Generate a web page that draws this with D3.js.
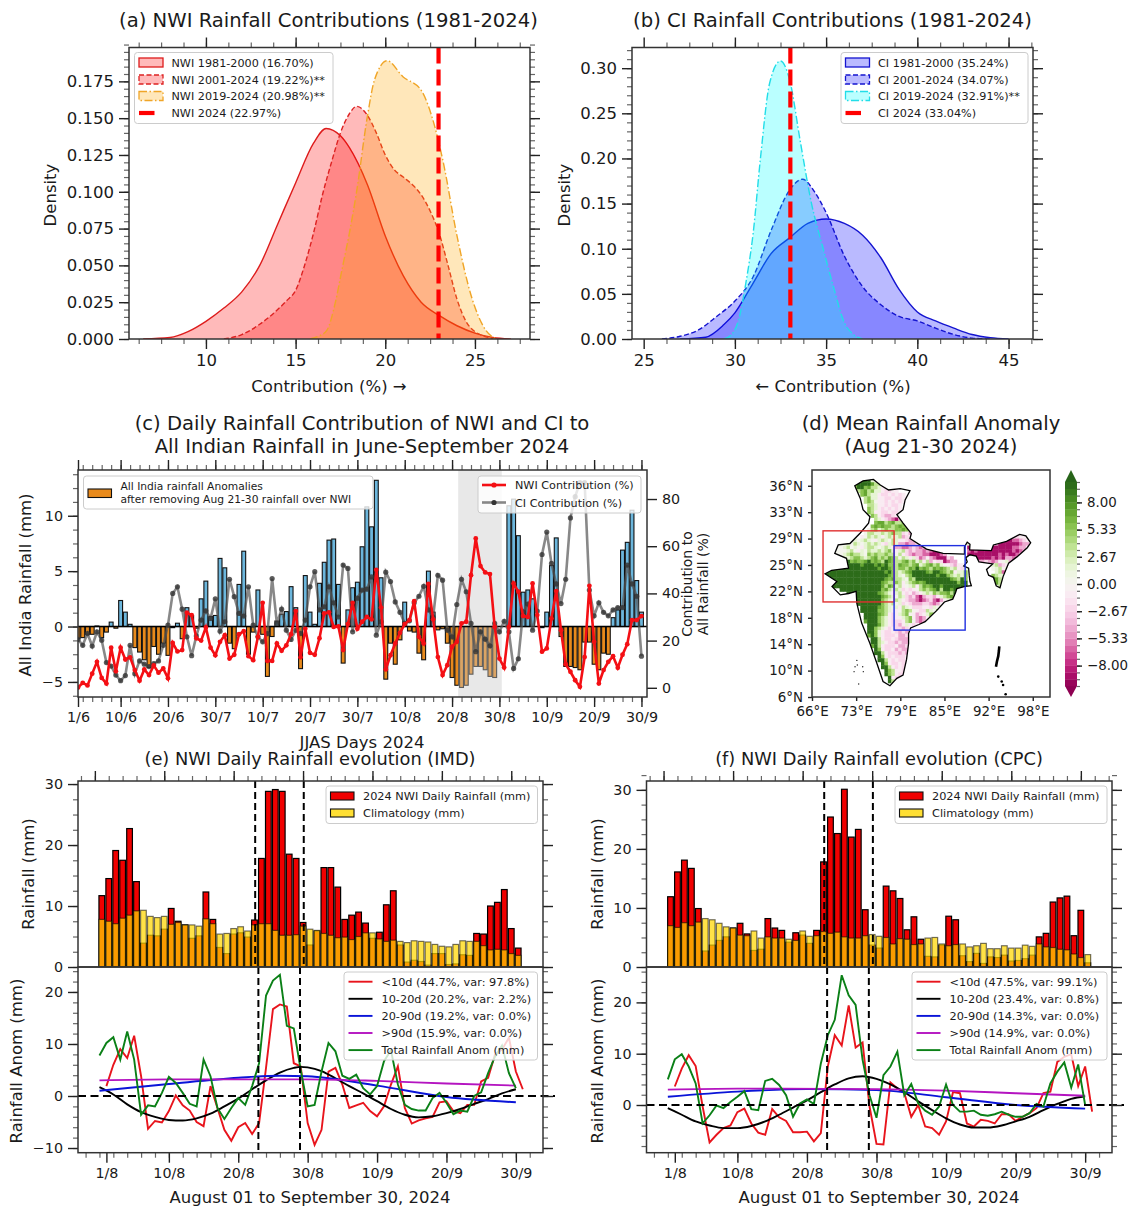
<!DOCTYPE html>
<html>
<head>
<meta charset="utf-8">
<style>
  html, body { margin: 0; padding: 0; background: #fff; }
  text { font-family: "DejaVu Sans", sans-serif; fill: #1a1a1a; }
  .domain { display: none; }
</style>
<script src="https://cdn.jsdelivr.net/npm/d3@7/dist/d3.min.js"></script>
</head>
<body>
<svg id="fig" width="1133" height="1207"></svg>
<script>
// (a) density curves, x then y
const nwiOldX = [6.5,8,9,10,11,12,13,14,15,16,16.7,17.5,18,19,20,21,22,23,24,25,26,27];
const nwiOldY = [0,.001,.005,.012,.021,.032,.05,.078,.106,.133,.143,.138,.13,.105,.07,.043,.025,.016,.009,.004,.001,0];
const nwiNewX = [11,12,13,14,14.5,15,15.5,16,16.5,17,17.5,18,18.4,19,19.5,20,20.5,21,21.5,22,22.5,23,23.5,24,24.5,25,25.5,26];
const nwiNewY = [0,.003,.01,.02,.026,.033,.05,.072,.098,.12,.14,.153,.158,.152,.14,.125,.115,.11,.105,.098,.087,.072,.05,.027,.012,.005,.002,0];
const nwiLateX = [15.8,16.3,16.75,17.2,17.6,18,18.4,19,19.4,20.1,21,22,22.6,23.2,24,24.8,25.6,26.2];
const nwiLateY = [0,.002,.006,.024,.048,.072,.1,.151,.176,.189,.178,.169,.151,.122,.07,.029,.006,0];
const nwiLegend = ["NWI 1981-2000 (16.70%)","NWI 2001-2024 (19.22%)**","NWI 2019-2024 (20.98%)**","NWI 2024 (22.97%)"];

// (b) density curves
const ciOldX = [27,28.4,29.4,30,31,32,33,34,35,36,37,38,39,40,41,42,43,44,45];
const ciOldY = [0,.002,.016,.029,.062,.095,.112,.128,.133,.128,.115,.09,.055,.03,.02,.012,.005,.0015,0];
const ciNewX = [26,27,28,29,30,31,32,33,33.7,34.4,35,36,37,38,39,40,41,42,43,44];
const ciNewY = [0,.003,.01,.025,.042,.069,.121,.165,.177,.162,.14,.092,.058,.038,.025,.02,.012,.005,.001,0];
const ciLateX = [29.4,29.9,30.2,30.6,31,31.4,31.9,32.5,33,33.6,34.2,34.8,35.4,36,36.5,37];
const ciLateY = [0,.007,.021,.062,.117,.2,.283,.308,.287,.217,.15,.103,.058,.018,.005,0];
const ciLegend = ["CI 1981-2000 (35.24%)","CI 2001-2024 (34.07%)","CI 2019-2024 (32.91%)**","CI 2024 (33.04%)"];

// (c) daily values, June 1 to end of September
const allIndiaAnom = [-1.1,-1.0,-0.7,-0.7,0.05,-1.0,-0.5,0.4,-0.15,2.35,
  1.3,0.2,-1.9,-2.3,-3.0,-3.7,-1.8,-2.5,-1.5,-2.6,
  -0.1,0.3,-1.1,1.7,1.0,-0.15,2.5,4.1,0.9,1.0,
  6.15,5.3,-1.5,-2.0,3.8,6.8,-2.5,-0.5,3.3,-0.7,
  -4.5,-0.9,0.5,1.1,1.35,3.6,1.7,-3.8,4.6,1.3,
  0.2,3.9,5.8,7.8,7.9,3.8,-3.3,1.5,3.5,4.0,
  7.2,10.8,9.0,13.2,4.4,-4.75,-1.5,-3.4,-1.2,2.2,
  -0.4,-0.5,-2.4,-3,5.0,1.3,-0.3,-0.2,-1.5,-4.6,
  -5.3,-5.5,-5.3,-4.3,-3.6,-3.6,-3.9,-4.5,-4.6,0,
  0,10.9,11.5,8.2,3.1,3.3,2.5,0,-0.1,1.3,
  5.5,8.0,-0.9,-3.6,-3.6,-3.7,-3.9,-1.4,-1.4,-3.4,
  -3.9,-2.4,-2.5,0.8,1.5,6.9,7.6,10.5,4.15,1.3];
const nwiContribution = [0.1,2.1,1,6,11,4.2,1.8,17,7,17,
  12,12.9,7.5,3,7.8,5.4,9.5,6.4,8.2,4,
  19,15.4,16,31.8,30.8,21,20,25.6,17,13.8,
  19.5,22.3,12.4,14,22.7,24,13.4,11.7,21.6,36,
  11.4,11.4,18.8,15.7,18,22.7,32.5,12.9,25,14.8,
  14,21,31.5,32,25.8,26,16,27,36,25,
  28,30,29,50,34,7.8,13.8,18.8,23.3,27,
  28.7,36.7,21.6,18.8,44,29,13,5.4,9.6,17.4,
  19.5,27.3,28,47.7,63.3,51.6,48.9,48.2,25.8,12.4,
  8.6,25.8,44.2,40.7,30.4,30,44.2,30.8,15.3,16.7,
  29.4,41,24.4,10,6.8,3.2,0.4,13,43.2,19.5,
  1.8,7.5,11,13.4,8.5,14,18.5,28.7,28.7,30.4];
const ciContribution = [20.5,18,23,17.7,23.7,20.2,10.7,9.2,5.4,3,
  5.2,18,6,11.4,10,9,10.3,11.4,18,26.6,
  40,42.8,33.3,21.6,13.6,22,28.7,32.6,29.4,37.7,
  24,28,46,38.6,31.5,30.4,42.8,26.6,21.6,19.5,
  23,46.3,27.3,33.3,24.4,20.5,24.4,23,28.7,42.8,
  49.2,33,34.3,42.8,36,30,52,50.6,23.7,38,
  41.4,41.8,47,22.3,28,49,45,36.4,32,27.3,
  28.4,36,38.8,43,33,30,47.7,45.6,24.4,21.6,
  35.3,46,40.7,27.3,15.3,23.7,20.6,17.8,27.3,23.7,
  28.2,23.7,8.2,12.3,32.2,35.5,24.4,32.5,56.5,66,
  52.7,44,35.7,46,72,81,87,87,41.4,30.5,
  36,32,30.5,33,34,34,52,44,38.8,13.4];
const dayTicks = [0,9,19,29,39,49,59,69,79,89,99,109,119];
const dayLabels = ["1/6","10/6","20/6","30/7","10/7","20/7","30/7","10/8","20/8","30/8","10/9","20/9","30/9"];

// (d) anomaly grid, half degree cells: first row 37N, first column 68E
// G f g l e w q p P m M run from strong wet to strong dry
const levelChars = ["G","f","g","l","e","w","q","p","P","m","M"];
const levelValues = [9.5,7,5.5,3.5,1.5,0.3,-1,-2.5,-4.5,-6.5,-9];
const mapRowsMain = [
"        eGGGGe",
"        fGGGGfll",
"        gGGgflleqq",
"         lgflgeeqppqq",
"          gfleeqppqpqpq",
"           lgeeqqppqppq",
"           lglwqqpqpqpq",
"            lleqqpqppq",
"            gleqpqpqpq",
"            glqqppqppq",
"             glqpPPpqp",
"              leqpPmMPpq",
"              gfflgfllgg",
"             gfgfgglgfgg",
"            wlgelgllggfgeq",
"           wlleelelgllpqPP",
"          qwleleqeleelPpqPp",
"       wewelewqelewleqqpPPpq",
"    wwewleweleleqpelePPmPPpqP",
"   wwelwewqelleweleqPPmmPpPmPPq",
"  wwwwelwqewleelelgeqelpPpPPmPmMMm",
"  ewwelgllewglgllgllwlqpPmPPmmMMMmP",
"   qweelgglelgflglfglwleqepmPqPmMMMpP",
"  ewlgGgfggfGgfglGfgllgflgelqlPqppMmPP",
" eglfGGGGGfGGGfGfGgglfgglgfelgflgeqqpPqq",
"  gfGGGGGGGGGGGfGGfglgglfgGgfglfgfglelqpe",
"GGGGGGGGGGGGGGGGGfGglelgfGGGGfgGGfglgqeeg",
"GGGGGGGGGGGGGGGGGGfglewlgGGGGGGGfGGgleleg",
"GGGGGGGGGGGGGGGGGfgfllewglGGGGGGGGGGfglGg",
"GGGGGGGGGGGGGGGGfgllglqelgfgfGGGGGGGGGgGG",
"  GGGGGGGGGGGGGGflfgelqwelqlfgfGGfGGGGGGG",
"    GGGGGGGGGGGGgflelepqpqwlglgfGlGGfGGGG",
"      GGGGGGGGGfgleqelqpqPpqeleglggflGGG",
"        GGGGGGGGfglewlepPpmMPppPqelgflf",
"         GGGGGGGglewleqpPPmMmPpmMPqelg",
"         GGGGGGGglelwepqpPPPppPmPqlgl",
"          GGGGGfgleweqlewpppqqpewlgf",
"          GGGGGggleqqwlglwqpplewgl",
"           GGGGfglqpqelgwqPpqeggl",
"           GGGGgleqpqqelgqPmPqgfg",
"           fGGGgleqpppqlgwPmPqlg",
"            GGGfleqppPqeqpqPPqg",
"            GGgleqpqppPpqpqqp",
"            GGgeqppqpPpPpqpe",
"            fGgeqpppqPPpqpq",
"             GGlqppqpPPPpqp",
"             GGleqppPpPPpq",
"             fGlqpppqPPpPq",
"              GgqppqPpPPqp",
"              GGlqpppPpPqp",
"               Ggqpqpppqp",
"               GGlqpqppq",
"                Ggqppqpp",
"                GGlqpqpq",
"                 Gglqqpq",
"                 Gglqppq",
"                  Gqppq",
"                  Glqpq",
"                   lqq",
"                   qq"];
// north east part: first row 29N, first column 88.5E
const mapRowsEast = [
"             ppqqew",
"         MMMMmmPpqqp",
"ep      PMMMMMMmPPpqpq",
"MM   mMMMMMMMmmPPqpP",
"mMmMMMMMMMMMMmMmPPqp",
"MMMMMMMMMmMmMMmPqe",
"pPMMMMMmMmMPPmPpew",
"   PPpPmPqwePpqe",
"    lqwelPpqeew",
"       welqelelw",
"        elmPlee",
"       gleePPlew",
"      GGflelee",
"        flgl",
"         lg"];
const indiaLon = [72.2,73.4,74.9,75.9,77.1,78.8,80.2,79.5,79.2,78.3,79.2,80.4,80.2,82.6,85,88.1,88.1,88.5,88.9,88.85,92,92.3,94.2,96.1,97,97.7,97.2,95.7,94.5,93.7,93.25,92.7,92.3,91.6,91.3,92.2,90.2,89.8,88.9,88.3,88.5,88,88.7,88.8,88.9,89.1,88.2,87,86.8,86.4,85.2,84.1,82.4,81.5,80.3,80,80,79.7,79.2,78.3,77.3,76.3,75.4,74.4,73.2,72.5,72.4,71.3,70.1,68.9,69.6,67.9,68.85,71.3,71,69.3,69.8,71.5,73,74.2,74.4,73.4,73];
const indiaLat = [36,36.7,36.9,36.1,35.4,35.6,35.3,34,32.6,31.9,30.7,29.2,28.5,27,26.4,26.3,27.3,28,27.7,26.9,26.8,27.6,28.1,29.1,28.9,27.9,27.2,25.9,25,23.1,21.5,21.8,23,23.3,24.1,24.9,25.2,26,26.2,25.8,25.2,24.6,24.3,23.2,22.4,21.8,21.7,21.4,20.8,19.9,19.5,18.3,16.7,16.3,15.8,15,13.6,11.3,9.1,8.65,7.6,8.2,10.8,13.6,16.5,19.3,21,20.7,20.5,21.7,22.4,23.5,24,24.3,25.7,26.4,27.6,27.8,29.3,30.7,31.6,32.6,34.2];
const andamanLon = [93.15,93.1,93,92.8,92.67];
const andamanLat = [13.2,12.6,11.8,11,10.3];
const nicobarLon = [93,93.5,93.7,94.07];
const nicobarLat = [8.9,8.2,7.7,6.4];
const lakshadweepLon = [72.5,72.24,72.57,73.35,72.1,73.44,72.77];
const lakshadweepLat = [11.2,10.3,10.55,10.3,9.6,9.6,7.85];
const nwiBoxLon = [67.6,77.9], nwiBoxLat = [19.5,29.6];
const ciBoxLon = [77.9,88.2], ciBoxLat = [15.5,27.5];
const lonTicks = [66,72.4,78.8,85.2,91.6,98];
const lonLabels = ["66°E","73°E","79°E","85°E","92°E","98°E"];
const latTicks = [6,9.75,13.5,17.25,21,24.75,28.5,32.25,36];
const latLabels = ["6°N","10°N","14°N","18°N","22°N","25°N","29°N","33°N","36°N"];
const cbarTicks = [8,5.33,2.67,0,-2.67,-5.33,-8];

// (e) IMD, Aug 1 to Sep 30
const imdRain = [11.7,14.5,19.1,17.5,22.7,14,3.9,5.2,5.1,6.2,9.6,7.5,6.9,4.7,5.1,12.3,7.8,3.2,2.2,5.4,5.6,4.9,7.7,17.8,28.8,29.1,28.8,18.5,17.8,7.3,3.6,5.9,16.3,16.3,13.1,7.8,8.5,9,7.2,4.7,5.7,10.2,12.5,3.6,0.8,1.1,0.9,0.3,2.2,2.2,0.4,0.5,2,1.9,5.5,5.4,10,10.6,12.7,6.3,3.1];
const imdClim = [7.8,7.5,7.1,8,8.5,9.2,9.3,8.3,8.1,8.3,7,7.3,6.9,6.9,6.7,7.9,7.1,5.4,5.5,6.3,6.6,5.9,6.9,7.1,7.1,6,5.2,5.2,5.3,6.7,6.2,6,5.5,5.2,4.8,4.9,4.5,5,5.6,5.6,4.6,4.2,4.4,4.2,4,4.3,4.2,4.1,3.7,3.4,3.3,3.7,4.3,4.2,4.2,3.5,2.8,2.9,2.8,2.2,1.9];
const imdTotal = [7.8,10.2,11.3,7,12.4,7,-3.6,-1.8,-2,0.6,3.7,2.5,0.6,-1.5,-2,7,3.8,-2.3,-4.4,-2.3,-0.4,-1.7,1.9,6.3,19.3,22.2,23.3,13.5,13,5,-2,-1.7,4.7,10.2,8.6,3.9,3.3,4.1,1.5,0.3,1.9,6.7,8.8,2.2,-1.7,-2.5,-2.8,-2.8,-0.4,0.6,-1.3,-3.5,-2.8,-3,0,0.7,4.4,7.6,9.7,4.4,1.5];
const imdShort = [1.9,6,9,7.3,11.6,3.8,-6.3,-4.8,-5.1,-2.9,0.1,-1.8,-2.8,-5,-5.8,1.9,-2.3,-6.5,-8.6,-6,-5.2,-7.3,-5.2,5.4,16.7,17.6,17.2,6.3,5.7,-5.2,-9.4,-6.5,4.7,5.4,2.2,-2.3,-1.8,-1.3,-2.9,-3.9,-2,2.2,5.7,-2.3,-5.3,-4.7,-4.3,-4,-1.2,-1,-2.9,-3.3,-1.7,-1.7,2.8,3.5,8,8.9,11.2,4.7,1.3];
const imdMidDays = [-1,1,3,5,7,9,11,13,15,17,19,21,23,25,27,28,29,31,33,35,37,39,41,43,45,47,49,51,53,55,57,59];
const imdMid = [1.7,0.3,-1.6,-3.1,-4,-4.6,-4.7,-4.3,-3.4,-2,-0.5,1.3,3,4.5,5.4,5.6,5.5,4.8,3.4,1.9,0.5,-1,-2.5,-3.6,-4.1,-3.9,-3.3,-2.5,-1.5,-0.6,0.5,1.3];
const imdLowDays = [-1,9,19,25,29,39,49,59];
const imdLow = [1,2.3,3.5,3.9,3.8,2,-0.2,-1.2];
const imdSlowDays = [-1,9,29,39,49,59];
const imdSlow = [3,3.2,3.2,2.9,2.4,2];
const imdLegend = ["<10d (44.7%, var: 97.8%)","10-20d (20.2%, var: 2.2%)","20-90d (19.2%, var: 0.0%)",">90d (15.9%, var: 0.0%)","Total Rainfall Anom (mm)"];

// (f) CPC, Aug 1 to Sep 30
const cpcRain = [11.9,16.1,18.1,16.7,9.9,2.7,3.7,4.5,5.1,6.6,7.4,5.6,2.8,3,8.2,6.6,6.2,4.2,5.8,5.4,4,6.2,17.8,25.4,22.6,30.1,22,23.3,9.7,3.7,3.2,13.7,12.9,11.6,6.3,8.5,4.7,1.8,1.7,3.7,8.6,8,1.9,0.9,2.3,0.6,1.7,1.6,2,1,1.1,1.4,2,5.1,5.7,11,11.7,12,5.3,9.6,0.7];
const cpcClim = [7,6.7,7.5,7,7.6,8.2,8,7.4,6.8,6.6,5.4,5.3,6.1,4.9,5.1,4.9,4.9,4.7,4.5,6.1,5.2,5.3,6,5.7,5.9,5.1,4.9,4.9,5.3,5.5,5.2,5,3.9,4.8,4.7,3.8,3.9,4.9,5,3.9,3.6,3.8,3.9,3.4,3.6,4,3.1,3.1,3.6,3.2,3.2,3.7,3.5,3.9,3.4,3.3,3,2.9,2.2,1.6,2.1];
const cpcTotal = [5,8.9,9.9,7.5,4.2,-3.6,-2,-0.1,-0.6,0.6,1.6,2.7,-0.8,-1,4.7,5.1,3.9,1.9,-2.3,0.3,1.1,0.2,8.1,13.6,16.6,25.3,21.4,19.5,8.8,1.9,-2.5,5.8,7.5,10.4,1.9,4.1,0.3,-1.1,-1.9,-0.3,4,0,-1.3,-1.3,-1.1,-1.9,-2.1,-1.8,-1.3,-1.9,-2.3,-2.3,-1.6,0.2,-0.3,4.2,6.5,8.3,3.4,7.9,0];
const cpcShort = [3.6,7.1,9.7,7.6,-0.3,-7.3,-5.8,-4.5,-4,-1.4,-0.7,-3.6,-5.4,-5.8,-0.8,-2.4,-3.1,-5.3,-5.3,-5.2,-7.1,-5.5,7.5,13.6,11.6,19.4,11.2,12.2,-0.3,-7.6,-7.7,4.4,3.2,2.3,-2.3,0,-4.2,-4.5,-5.8,-3.2,2.5,2.3,-3.6,-4.2,-2.9,-3.1,-3.6,-1.8,-1.8,-3.1,-2.3,-1.6,-0.6,2.3,2.6,8.4,9.4,9.9,3.7,7.5,-1.3];
const cpcMidDays = [-1,1,3,5,7,9,11,13,15,17,19,21,23,25,27,29,31,33,35,37,39,41,43,45,47,49,51,53,55,57,59];
const cpcMid = [-0.6,-1.9,-3.2,-4,-4.5,-4.5,-4.1,-3.2,-1.9,-0.5,0.9,2.5,4,5.2,5.6,5.1,4,2.5,0.7,-1,-2.6,-3.8,-4.4,-4.4,-4,-3.2,-2.3,-1,0.2,1.2,1.7];
const cpcLowDays = [-1,9,19,29,39,49,59];
const cpcLow = [1.6,2.6,3.1,2.9,1.5,0,-0.7];
const cpcSlowDays = [-1,9,29,39,49,59];
const cpcSlow = [3,3.2,3.1,2.8,2.3,1.8];
const cpcLegend = ["<10d (47.5%, var: 99.1%)","10-20d (23.4%, var: 0.8%)","20-90d (14.3%, var: 0.0%)",">90d (14.9%, var: 0.0%)","Total Rainfall Anom (mm)"];

const evoTicks = [0,9,19,29,39,49,59];
const evoLabels = ["1/8","10/8","20/8","30/8","10/9","20/9","30/9"];
const barLegend = ["2024 NWI Daily Rainfall (mm)","Climatology (mm)"];
const componentColors = ["#e8141c","#000000","#0a14d8","#b414c0","#0b8017"];

const svg = d3.select("#fig");

function label(x, y, s, size, anchor, rotate) {
  const t = svg.append("text").attr("x", x).attr("y", y).attr("font-size", size)
    .attr("text-anchor", anchor || "middle").text(s);
  if (rotate) t.attr("transform", `rotate(${rotate} ${x} ${y})`);
  return t;
}

function ticks(axisFn, scale, tx, ty, majors, minors, labels, size, lenMaj, lenMin) {
  const g = svg.append("g").attr("transform", `translate(${tx},${ty})`);
  g.append("g").call(axisFn(scale).tickValues(minors).tickSize(lenMin || 5).tickFormat(""))
    .selectAll("line").attr("stroke", "#666").attr("stroke-width", 1.2);
  const main = g.append("g").call(axisFn(scale).tickValues(majors).tickSize(lenMaj || 10).tickPadding(5)
    .tickFormat((d, i) => labels ? labels[i] : ""));
  main.selectAll("line").attr("stroke", "#222").attr("stroke-width", 1.4);
  main.selectAll("text").attr("font-size", size || 15).attr("font-family", "DejaVu Sans").attr("fill", "#1a1a1a");
  g.selectAll(".tick text").filter(function () { return !this.textContent; }).remove();
}

function frame(x0, y0, x1, y1) {
  svg.append("rect").attr("x", x0).attr("y", y0).attr("width", x1 - x0).attr("height", y1 - y0)
    .attr("fill", "none").attr("stroke", "#333").attr("stroke-width", 1.5);
}

function clip(id, x0, y0, x1, y1) {
  svg.append("clipPath").attr("id", id).append("rect")
    .attr("x", x0).attr("y", y0).attr("width", x1 - x0).attr("height", y1 - y0);
  return svg.append("g").attr("clip-path", `url(#${id})`);
}

function legendBox(x0, y0, x1, y1) {
  svg.append("rect").attr("x", x0).attr("y", y0).attr("width", x1 - x0).attr("height", y1 - y0)
    .attr("rx", 3).attr("fill", "#fff").attr("fill-opacity", 0.8).attr("stroke", "#ccc").attr("stroke-width", 1);
}

function range(start, stop, step) {
  return d3.range(start, stop + step / 2, step);
}

// ---- density panels
function densityPanel(o) {
  const x = d3.scaleLinear().domain(o.xDomain).range([o.x0, o.x1]);
  const y = d3.scaleLinear().domain(o.yDomain).range([339, 47.5]);
  const g = clip(o.id, o.x0, 47.5, o.x1, 339);
  o.curves.forEach(c => {
    const pts = c.xs.map((v, i) => [v, c.ys[i]]);
    g.append("path").datum(pts)
      .attr("d", d3.area().x(d => x(d[0])).y0(y(0)).y1(d => y(d[1])).curve(d3.curveMonotoneX))
      .attr("fill", c.fill).attr("fill-opacity", 0.27);
    g.append("path").datum(pts)
      .attr("d", d3.line().x(d => x(d[0])).y(d => y(d[1])).curve(d3.curveMonotoneX))
      .attr("fill", "none").attr("stroke", c.stroke).attr("stroke-width", 1.4).attr("stroke-dasharray", c.dash);
  });
  g.append("line").attr("x1", x(o.mark)).attr("x2", x(o.mark)).attr("y1", y.range()[1]).attr("y2", y(0))
    .attr("stroke", "#ff0000").attr("stroke-width", 4.2).attr("stroke-dasharray", "16,6");

  const minorX = range(o.xMinorStart, o.xDomain[1], 1.25);
  ticks(d3.axisBottom, x, 0, 339, o.xTicks, minorX, o.xTicks.map(String), 16.5);
  ticks(d3.axisTop, x, 0, 47.5, o.xTicks, minorX, null);
  const minorY = range(0, o.yDomain[1], o.yMinor);
  ticks(d3.axisLeft, y, o.x0, 0, o.yTicks, minorY, o.yTicks.map(o.yFormat), 16.5);
  ticks(d3.axisRight, y, o.x1, 0, o.yTicks, minorY, null);
  frame(o.x0, 47.5, o.x1, 339);

  legendBox(o.lx0, 52.5, o.lx1, 123.5);
  const rowY = [62.5, 79.5, 96, 113];
  o.curves.forEach((c, i) => {
    svg.append("rect").attr("x", o.lx0 + 4.5).attr("y", rowY[i] - 4.5).attr("width", 24).attr("height", 9)
      .attr("fill", c.fill).attr("fill-opacity", 0.27).attr("stroke", c.stroke).attr("stroke-width", 1.3)
      .attr("stroke-dasharray", c.dash);
  });
  svg.append("line").attr("x1", o.lx0 + 4.5).attr("x2", o.lx0 + 20).attr("y1", rowY[3]).attr("y2", rowY[3])
    .attr("stroke", "#ff0000").attr("stroke-width", 4.2);
  o.legend.forEach((s, i) => label(o.lx0 + 37, rowY[i] + 4, s, 11.2, "start"));

  label((o.x0 + o.x1) / 2 + o.titleDx, 27, o.title, 19.6);
  label(o.labelX, 392, o.xLabel, 16.5);
  label(o.densityX, 195, "Density", 16.5, "middle", -90);
}

densityPanel({
  id: "clipA", x0: 129, x1: 530, xDomain: [5.71, 28.07], yDomain: [0, 0.198], mark: 22.97,
  xTicks: [10, 15, 20, 25], xMinorStart: 6.25, yTicks: [0, .025, .05, .075, .1, .125, .15, .175],
  yMinor: 0.005, yFormat: d3.format(".3f"), lx0: 134.5, lx1: 333, legend: nwiLegend,
  title: "(a) NWI Rainfall Contributions (1981-2024)", titleDx: -1, labelX: 329,
  xLabel: "Contribution (%) →", densityX: 56,
  curves: [
    { xs: nwiOldX, ys: nwiOldY, fill: "#ff0000", stroke: "#dd1c1c", dash: null },
    { xs: nwiNewX, ys: nwiNewY, fill: "#ff0000", stroke: "#d22", dash: "5,2.5" },
    { xs: nwiLateX, ys: nwiLateY, fill: "#ffa500", stroke: "#f0a527", dash: "8,2.5,1.5,2.5" }
  ]
});
densityPanel({
  id: "clipB", x0: 632, x1: 1033, xDomain: [24.36, 46.34], yDomain: [0, 0.3229], mark: 33.04,
  xTicks: [25, 30, 35, 40, 45], xMinorStart: 26.25, yTicks: [0, .05, .1, .15, .2, .25, .3],
  yMinor: 0.01, yFormat: d3.format(".2f"), lx0: 841, lx1: 1028, legend: ciLegend,
  title: "(b) CI Rainfall Contributions (1981-2024)", titleDx: 0, labelX: 833,
  xLabel: "← Contribution (%)", densityX: 570,
  curves: [
    { xs: ciOldX, ys: ciOldY, fill: "#0000ff", stroke: "#1414d0", dash: null },
    { xs: ciNewX, ys: ciNewY, fill: "#0000ff", stroke: "#1414d0", dash: "5,2.5" },
    { xs: ciLateX, ys: ciLateY, fill: "#00ffff", stroke: "#22dde8", dash: "8,2.5,1.5,2.5" }
  ]
});

// ---- panel c
(function () {
  const x0 = 78, x1 = 647, y0 = 470, y1 = 697;
  const x = d3.scaleLinear().domain([0, 120.17]).range([x0, x1]);
  const y = d3.scaleLinear().domain([-6.36, 14.13]).range([y1, y0]);
  const yr = d3.scaleLinear().domain([-3.9, 92.3]).range([y1, y0]);
  const g = clip("clipC", x0, y0, x1, y1);
  const barW = 3.9;
  g.selectAll("rect.day").data(allIndiaAnom).join("rect").attr("class", "day")
    .attr("x", (d, i) => x(i) - barW / 2).attr("width", barW)
    .attr("y", d => y(Math.max(d, 0))).attr("height", d => Math.abs(y(d) - y(0)))
    .attr("fill", d => d >= 0 ? "#6cb6dc" : "#e88a1c").attr("stroke", "#111").attr("stroke-width", 1.1);
  g.append("rect").attr("x", x(80.3)).attr("width", x(89.5) - x(80.3)).attr("y", y0).attr("height", y1 - y0)
    .attr("fill", "#c8c8c8").attr("fill-opacity", 0.42);
  g.append("line").attr("x1", x0).attr("x2", x1).attr("y1", y(0)).attr("y2", y(0))
    .attr("stroke", "#000").attr("stroke-width", 1.6);

  const ln = d3.line().x((d, i) => x(i)).y(d => yr(d));
  g.append("path").datum(ciContribution).attr("d", ln).attr("fill", "none")
    .attr("stroke", "#555").attr("stroke-opacity", 0.7).attr("stroke-width", 2.6);
  g.selectAll("circle.ci").data(ciContribution).join("circle").attr("class", "ci")
    .attr("cx", (d, i) => x(i)).attr("cy", d => yr(d)).attr("r", 2.6).attr("fill", "#333").attr("fill-opacity", 0.8);
  g.append("path").datum(nwiContribution).attr("d", ln).attr("fill", "none")
    .attr("stroke", "#f40f14").attr("stroke-width", 2.6);
  g.selectAll("circle.nwi").data(nwiContribution).join("circle").attr("class", "nwi")
    .attr("cx", (d, i) => x(i)).attr("cy", d => yr(d)).attr("r", 2.4).attr("fill", "#f40f14");

  const minorX = range(1, 120, 2);
  ticks(d3.axisBottom, x, 0, y1, dayTicks, minorX, dayLabels, 14.3);
  ticks(d3.axisTop, x, 0, y0, dayTicks, minorX, null);
  ticks(d3.axisLeft, y, x0, 0, [-5, 0, 5, 10], range(-6.25, 13.75, 1.25), ["−5", "0", "5", "10"], 14.3);
  ticks(d3.axisRight, yr, x1, 0, [0, 20, 40, 60, 80], [], ["0", "20", "40", "60", "80"], 14.3);
  frame(x0, y0, x1, y1);

  legendBox(83.5, 476, 373, 509);
  svg.append("rect").attr("x", 88).attr("y", 489).attr("width", 23.5).attr("height", 8.5)
    .attr("fill", "#e88a1c").attr("stroke", "#111").attr("stroke-width", 1.1);
  label(120.5, 490, "All India rainfall Anomalies", 10.7, "start");
  label(120.5, 502.5, "after removing Aug 21-30 rainfall over NWI", 10.7, "start");

  legendBox(478, 476, 641, 513);
  [["#f40f14", 1, "NWI Contribution (%)", 485], ["#555", 0.7, "CI Contribution (%)", 502.5]].forEach(r => {
    svg.append("line").attr("x1", 482).attr("x2", 506).attr("y1", r[3]).attr("y2", r[3])
      .attr("stroke", r[0]).attr("stroke-opacity", r[1]).attr("stroke-width", 2.6);
    svg.append("circle").attr("cx", 494).attr("cy", r[3]).attr("r", 2.6).attr("fill", r[0] === "#555" ? "#333" : r[0]);
    label(515, r[3] + 4, r[2], 11.2, "start");
  });

  label(362, 430, "(c) Daily Rainfall Contribution of NWI and CI to", 19.6);
  label(362, 453, "All Indian Rainfall in June-September 2024", 19.6);
  label(362, 748, "JJAS Days 2024", 16.5);
  label(31, 585, "All India Rainfall (mm)", 16.5, "middle", -90);
  label(692, 584, "Contribution to", 14, "middle", -90);
  label(708, 584, "All Rainfall (%)", 14, "middle", -90);
})();

// ---- panel d
(function () {
  const x0 = 812, x1 = 1050, y0 = 470, y1 = 697;
  const x = d3.scaleLinear().domain([66, 100.5]).range([x0, x1]);
  const y = d3.scaleLinear().domain([6, 38.24]).range([y1, y0]);
  const bands = range(-10, 10, 20 / 30);
  const color = v => d3.interpolatePiYG((Math.floor((v + 10) / (20 / 30)) + 0.5) / 30);
  const outline = indiaLon.map((v, i) => [v, indiaLat[i]]);
  const shape = d3.line().x(d => x(d[0])).y(d => y(d[1])).curve(d3.curveLinearClosed);

  svg.append("clipPath").attr("id", "clipIndia").append("path").attr("d", shape(outline));
  const cells = svg.append("g").attr("clip-path", "url(#clipIndia)");
  const drawRows = (rows, lon0, lat0) => rows.forEach((row, r) => {
    Array.from(row).forEach((ch, c) => {
      const k = levelChars.indexOf(ch);
      if (k < 0) return;
      const lon = lon0 + c * 0.5, lat = lat0 - r * 0.5;
      cells.append("rect").attr("x", x(lon)).attr("y", y(lat))
        .attr("width", x(lon + 0.5) - x(lon) + 0.4).attr("height", y(lat - 0.5) - y(lat) + 0.4)
        .attr("fill", color(levelValues[k]));
    });
  });
  drawRows(mapRowsMain, 68, 37);
  drawRows(mapRowsEast, 88.5, 29);

  svg.append("path").attr("d", shape(outline)).attr("fill", "none").attr("stroke", "#000").attr("stroke-width", 1.3);
  svg.append("path").datum(andamanLon.map((v, i) => [v, andamanLat[i]]))
    .attr("d", d3.line().x(d => x(d[0])).y(d => y(d[1]))).attr("fill", "none").attr("stroke", "#000").attr("stroke-width", 2.6);
  nicobarLon.forEach((v, i) => svg.append("circle").attr("cx", x(v)).attr("cy", y(nicobarLat[i])).attr("r", 1.3).attr("fill", "#000"));
  lakshadweepLon.forEach((v, i) => svg.append("circle").attr("cx", x(v)).attr("cy", y(lakshadweepLat[i])).attr("r", 0.7).attr("fill", "#222"));

  [[nwiBoxLon, nwiBoxLat, "#e03030"], [ciBoxLon, ciBoxLat, "#2030e0"]].forEach(b => {
    svg.append("rect").attr("x", x(b[0][0])).attr("width", x(b[0][1]) - x(b[0][0]))
      .attr("y", y(b[1][1])).attr("height", y(b[1][0]) - y(b[1][1]))
      .attr("fill", "none").attr("stroke", b[2]).attr("stroke-width", 1.4);
  });

  ticks(d3.axisBottom, x, 0, y1, lonTicks, [], lonLabels, 13.4, 4);
  ticks(d3.axisLeft, y, x0, 0, latTicks, [], latLabels, 13.4, 4);
  frame(x0, y0, x1, y1);

  // colour bar
  const yc = d3.scaleLinear().domain([-10, 10]).range([686, 482]);
  const cw = 12, cx = 1065;
  svg.selectAll("rect.band").data(bands.slice(0, -1)).join("rect").attr("class", "band")
    .attr("x", cx).attr("width", cw).attr("y", d => yc(d + 20 / 30)).attr("height", yc(0) - yc(20 / 30) + 0.3)
    .attr("fill", d => color(d + 0.1));
  const tip = (v, ty) => svg.append("path").attr("d", `M${cx},${yc(v)}L${cx + cw / 2},${ty}L${cx + cw},${yc(v)}Z`)
    .attr("fill", d3.interpolatePiYG(v > 0 ? 1 : 0)).attr("stroke", "none");
  tip(10, 470); tip(-10, 697);
  ticks(d3.axisRight, yc, cx + cw, 0, cbarTicks, bands, cbarTicks.map(v => v < 0 ? "−" + d3.format(".2f")(-v) : d3.format(".2f")(v)), 13.4, 5, 3);

  label(931, 430, "(d) Mean Rainfall Anomaly", 19.6);
  label(931, 453, "(Aug 21-30 2024)", 19.6);
})();

// ---- panels e and f
function evolutionPanel(o) {
  const midY = 967, topY = 781, botY = 1152.7;
  const xBar = d3.scaleLinear().domain([0, 60]).range([o.barStart, o.barEnd]);
  const perDay = (o.barEnd - o.barStart) / 60;
  const xDay = d3.scaleLinear().domain([0, 59]).range([o.dayStart, o.dayStart + 59 * perDay]);
  const yTop = d3.scaleLinear().domain([0, o.topMax]).range([midY, topY]);
  const yLow = d3.scaleLinear().domain(o.lowDomain).range([botY, midY]);

  const up = clip(o.id + "u", o.x0, topY, o.x1, midY);
  const w = 5.7;
  up.selectAll("rect.rain").data(o.rain).join("rect").attr("class", "rain")
    .attr("x", (d, i) => xBar(i) - w / 2).attr("width", w).attr("y", d => yTop(d)).attr("height", d => midY - yTop(d))
    .attr("fill", "#f00000").attr("stroke", "#000").attr("stroke-width", 1.2);
  up.selectAll("rect.clim").data(o.clim).join("rect").attr("class", "clim")
    .attr("x", (d, i) => xBar(i) - w / 2).attr("width", w).attr("y", d => yTop(d)).attr("height", d => midY - yTop(d))
    .attr("fill", "#ffd700").attr("fill-opacity", 0.72).attr("stroke", "#000").attr("stroke-opacity", 0.55).attr("stroke-width", 1.2);
  o.vBar.forEach(v => up.append("line").attr("x1", xBar(v)).attr("x2", xBar(v)).attr("y1", topY).attr("y2", midY)
    .attr("stroke", "#000").attr("stroke-width", 2).attr("stroke-dasharray", "7,4"));

  const lo = clip(o.id + "l", o.x0, midY, o.x1, botY);
  const series = d3.line().x(d => xDay(d[0])).y(d => yLow(d[1]));
  const smooth = d3.line().x(d => xDay(d[0])).y(d => yLow(d[1])).curve(d3.curveMonotoneX);
  const pairs = (days, vals) => vals.map((v, i) => [days ? days[i] : 0, v]);
  const dailyFrom = (start, vals) => vals.map((v, i) => [start + i, v]);
  const draw = (pts, fn, col, sw) => lo.append("path").datum(pts).attr("d", fn).attr("fill", "none")
    .attr("stroke", col).attr("stroke-width", sw);
  draw(dailyFrom(0, o.short), series, componentColors[0], 1.9);
  draw(pairs(o.midDays, o.mid), smooth, componentColors[1], 1.9);
  draw(pairs(o.lowDays, o.low), smooth, componentColors[2], 1.9);
  draw(pairs(o.slowDays, o.slow), smooth, componentColors[3], 1.9);
  draw(dailyFrom(-1, o.total), series, componentColors[4], 1.9);
  o.vDay.forEach(v => lo.append("line").attr("x1", xDay(v)).attr("x2", xDay(v)).attr("y1", midY).attr("y2", botY)
    .attr("stroke", "#000").attr("stroke-width", 2).attr("stroke-dasharray", "7,4"));
  svg.append("line").attr("x1", o.x0).attr("x2", o.x1 + 12).attr("y1", yLow(0)).attr("y2", yLow(0))
    .attr("stroke", "#000").attr("stroke-width", 2).attr("stroke-dasharray", "8,4.5");

  const minorBar = range(-3, 63, 2);
  ticks(d3.axisTop, xBar, 0, topY, range(-1, 59, 10), minorBar, null);
  ticks(d3.axisBottom, xDay, 0, botY, evoTicks, range(-3, 62, 2), evoLabels, 14.3);
  ticks(d3.axisLeft, yTop, o.x0, 0, [0, 10, 20, 30], range(0, o.topMax, 2.5), ["0", "10", "20", "30"], 14.3);
  ticks(d3.axisRight, yTop, o.x1, 0, [0, 10, 20, 30], range(0, o.topMax, 2.5), null);
  ticks(d3.axisLeft, yLow, o.x0, 0, o.lowTicks, range(-10, o.lowDomain[1], 2).filter(v => v >= o.lowDomain[0]), o.lowTicks.map(v => v < 0 ? "−" + (-v) : String(v)), 14.3);
  ticks(d3.axisRight, yLow, o.x1, 0, o.lowTicks, range(-10, o.lowDomain[1], 2).filter(v => v >= o.lowDomain[0]), null);
  frame(o.x0, topY, o.x1, midY);
  frame(o.x0, midY, o.x1, botY);

  legendBox(o.lx0, 786, o.lx1, 823.5);
  [["#f00000", 1, 796], ["#ffd700", 0.8, 813]].forEach((r, i) => {
    svg.append("rect").attr("x", o.lx0 + 4.5).attr("y", r[2] - 4).attr("width", 23.5).attr("height", 8)
      .attr("fill", r[0]).attr("fill-opacity", r[1]).attr("stroke", "#111").attr("stroke-width", 1.1);
    label(o.lx0 + 37, r[2] + 4, barLegend[i], 11.3, "start");
  });
  legendBox(o.lx2, 972, o.lx1, 1060);
  o.legend.forEach((s, i) => {
    const ly = 981.7 + i * 17.1;
    svg.append("line").attr("x1", o.lx2 + 4.5).attr("x2", o.lx2 + 28.5).attr("y1", ly).attr("y2", ly)
      .attr("stroke", componentColors[i]).attr("stroke-width", 1.9);
    label(o.lx2 + 37.5, ly + 4, s, 11.3, "start");
  });

  label(o.center, 765, o.title, 17.8);
  label(o.center, 1203, "August 01 to September 30, 2024", 16.5);
  label(o.topLabelX, 874, "Rainfall (mm)", 16.5, "middle", -90);
  label(o.lowLabelX, 1061, "Rainfall Anom (mm)", 16.5, "middle", -90);
}

evolutionPanel({
  id: "clipE", x0: 78, x1: 543, barStart: 101.8, barEnd: 518.2, dayStart: 106.4,
  topMax: 30.5, lowDomain: [-10.9, 24.8], lowTicks: [-10, 0, 10, 20],
  rain: imdRain, clim: imdClim, total: imdTotal, short: imdShort,
  midDays: imdMidDays, mid: imdMid, lowDays: imdLowDays, low: imdLow, slowDays: imdSlowDays, slow: imdSlow,
  vBar: [22.1, 29.1], vDay: [21.9, 27.9], legend: imdLegend,
  lx0: 326, lx1: 537.5, lx2: 344, center: 310, topLabelX: 34, lowLabelX: 22,
  title: "(e) NWI Daily Rainfall evolution (IMD)"
});
evolutionPanel({
  id: "clipF", x0: 646.5, x1: 1112, barStart: 670.5, barEnd: 1087.8, dayStart: 674.8,
  topMax: 31.5, lowDomain: [-9.3, 26.9], lowTicks: [0, 10, 20],
  rain: cpcRain, clim: cpcClim, total: cpcTotal, short: cpcShort,
  midDays: cpcMidDays, mid: cpcMid, lowDays: cpcLowDays, low: cpcLow, slowDays: cpcSlowDays, slow: cpcSlow,
  vBar: [22.1, 29.1], vDay: [21.9, 27.9], legend: cpcLegend,
  lx0: 895, lx1: 1107, lx2: 912, center: 879, topLabelX: 603, lowLabelX: 603,
  title: "(f) NWI Daily Rainfall evolution (CPC)"
});
</script>
</body>
</html>
